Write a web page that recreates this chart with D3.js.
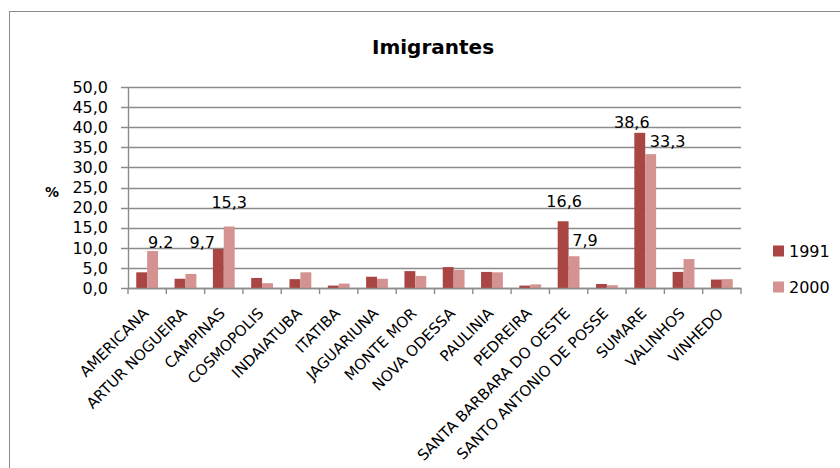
<!DOCTYPE html>
<html>
<head>
<meta charset="utf-8">
<script src="https://cdn.jsdelivr.net/npm/d3@7"></script>
<style>
  html, body { margin: 0; padding: 0; background: #fff; }
  svg { display: block; font-family: "DejaVu Sans", sans-serif; }
</style>
</head>
<body>
<svg id="chart" width="840" height="468"></svg>
<script>
const categories = ["AMERICANA", "ARTUR NOGUEIRA", "CAMPINAS", "COSMOPOLIS", "INDAIATUBA", "ITATIBA",
  "JAGUARIUNA", "MONTE MOR", "NOVA ODESSA", "PAULINIA", "PEDREIRA", "SANTA BARBARA DO OESTE",
  "SANTO ANTONIO DE POSSE", "SUMARE", "VALINHOS", "VINHEDO"];
const seriesNames = ["1991", "2000"];
const values1991 = [3.9, 2.3, 9.7, 2.5, 2.2, 0.6, 2.8, 4.2, 5.2, 4.0, 0.6, 16.6, 1.0, 38.6, 4.0, 2.1];
const values2000 = [9.2, 3.5, 15.3, 1.2, 3.9, 1.1, 2.3, 3.0, 4.5, 3.9, 0.9, 7.9, 0.7, 33.3, 7.2, 2.2];
const yTicks = [0, 5, 10, 15, 20, 25, 30, 35, 40, 45, 50];
const labelCats = ["AMERICANA", "CAMPINAS", "CAMPINAS", "SANTA BARBARA DO OESTE", "SANTA BARBARA DO OESTE", "SUMARE", "SUMARE"];
const labelSeries = ["2000", "1991", "2000", "1991", "2000", "1991", "2000"];
const labelTexts = ["9.2", "9,7", "15,3", "16,6", "7,9", "38,6", "33,3"];
const titleText = "Imigrantes";
const yAxisTitle = "%";

// styles / layout (kept separate from data)
const colors = {"1991": "#A94543", "2000": "#D49391"};
const labelOffsets = [[8, -9], [-16, -7], [0, -24], [1, -20], [11, -16], [-8, -11], [17, -13]];

(function () {
const svg = d3.select("#chart");
const pLeft = 128, pRight = 741, pTop = 87, pBottom = 288;

svg.append("rect").attr("x", 9.5).attr("y", 11.5).attr("width", 860).attr("height", 500)
  .attr("fill", "none").attr("stroke", "#8a8a8a").attr("stroke-width", 1);

const fmt = d3.formatLocale({decimal: ",", thousands: ".", grouping: [3], currency: ["", ""]}).format(".1f");

const x0 = d3.scaleBand().domain(categories).range([pLeft, pRight]).padding(0);
const x1 = d3.scaleBand().domain(seriesNames).range([0, x0.bandwidth()]).paddingInner(0).paddingOuter(0.757);
const y = d3.scaleLinear().domain([0, 50]).range([pBottom, pTop]);

// gridlines
svg.append("g").selectAll("line").data(yTicks).join("line")
  .attr("x1", pLeft - 7).attr("x2", pRight)
  .attr("y1", d => Math.round(y(d)) + 0.5).attr("y2", d => Math.round(y(d)) + 0.5)
  .attr("stroke", "#8c8c8c").attr("stroke-width", 1.4);

// y tick labels
svg.append("g").selectAll("text").data(yTicks).join("text")
  .attr("x", 108).attr("y", d => y(d)).attr("dy", "0.36em")
  .attr("text-anchor", "end").attr("font-size", 16).attr("fill", "#000")
  .text(d => fmt(d));

// y axis line
svg.append("line").attr("x1", pLeft + 0.5).attr("x2", pLeft + 0.5).attr("y1", pTop).attr("y2", pBottom)
  .attr("stroke", "#8c8c8c").attr("stroke-width", 1.4);

// bars
const data = categories.map((c, i) => ({cat: c, vals: [
  {s: "1991", v: values1991[i]}, {s: "2000", v: values2000[i]}]}));
const groups = svg.append("g").selectAll("g").data(data).join("g")
  .attr("transform", d => `translate(${x0(d.cat)},0)`);
groups.selectAll("rect").data(d => d.vals).join("rect")
  .attr("x", d => x1(d.s)).attr("width", x1.bandwidth())
  .attr("y", d => y(d.v)).attr("height", d => pBottom - y(d.v))
  .attr("fill", d => colors[d.s]);

// x axis line and ticks
svg.append("line").attr("x1", pLeft).attr("x2", pRight).attr("y1", pBottom + 0.5).attr("y2", pBottom + 0.5)
  .attr("stroke", "#8c8c8c").attr("stroke-width", 1.4);
const boundaries = categories.map(c => x0(c)).concat([pRight]);
svg.append("g").selectAll("line").data(boundaries).join("line")
  .attr("x1", d => d).attr("x2", d => d).attr("y1", pBottom).attr("y2", pBottom + 6)
  .attr("stroke", "#8c8c8c").attr("stroke-width", 1.4);

// x labels
svg.append("g").selectAll("text").data(categories).join("text")
  .attr("transform", d => `translate(${x0(d) + x0.bandwidth() / 2 - 1.5},310.5) rotate(-45)`)
  .attr("text-anchor", "end").attr("dy", "0.36em").attr("font-size", 15).attr("fill", "#000")
  .text(d => d);

// data labels
svg.append("g").selectAll("text").data(labelTexts).join("text")
  .attr("x", (d, i) => x0(labelCats[i]) + x1(labelSeries[i]) + x1.bandwidth() / 2 + labelOffsets[i][0])
  .attr("y", (d, i) => {
    const idx = categories.indexOf(labelCats[i]);
    const v = labelSeries[i] === "1991" ? values1991[idx] : values2000[idx];
    return y(v) + labelOffsets[i][1];
  })
  .attr("dy", "0.36em").attr("text-anchor", "middle").attr("font-size", 16).attr("fill", "#000")
  .text(d => d);

// title
svg.append("text").attr("x", 433).attr("y", 54).attr("text-anchor", "middle")
  .attr("font-size", 20).attr("font-weight", "bold").text(titleText);

// y axis title
svg.append("text").attr("x", 52).attr("y", 192).attr("dy", "0.36em").attr("text-anchor", "middle")
  .attr("font-size", 14).attr("font-weight", "bold").text(yAxisTitle);

// legend
const legend = svg.append("g").selectAll("g").data(seriesNames).join("g")
  .attr("transform", (d, i) => `translate(773,${251 + i * 36})`);
legend.append("rect").attr("x", 0).attr("y", -5.5).attr("width", 11).attr("height", 11)
  .attr("fill", d => colors[d]);
legend.append("text").attr("x", 16).attr("y", 0).attr("dy", "0.36em").attr("font-size", 16).text(d => d);
})();
</script>
</body>
</html>
